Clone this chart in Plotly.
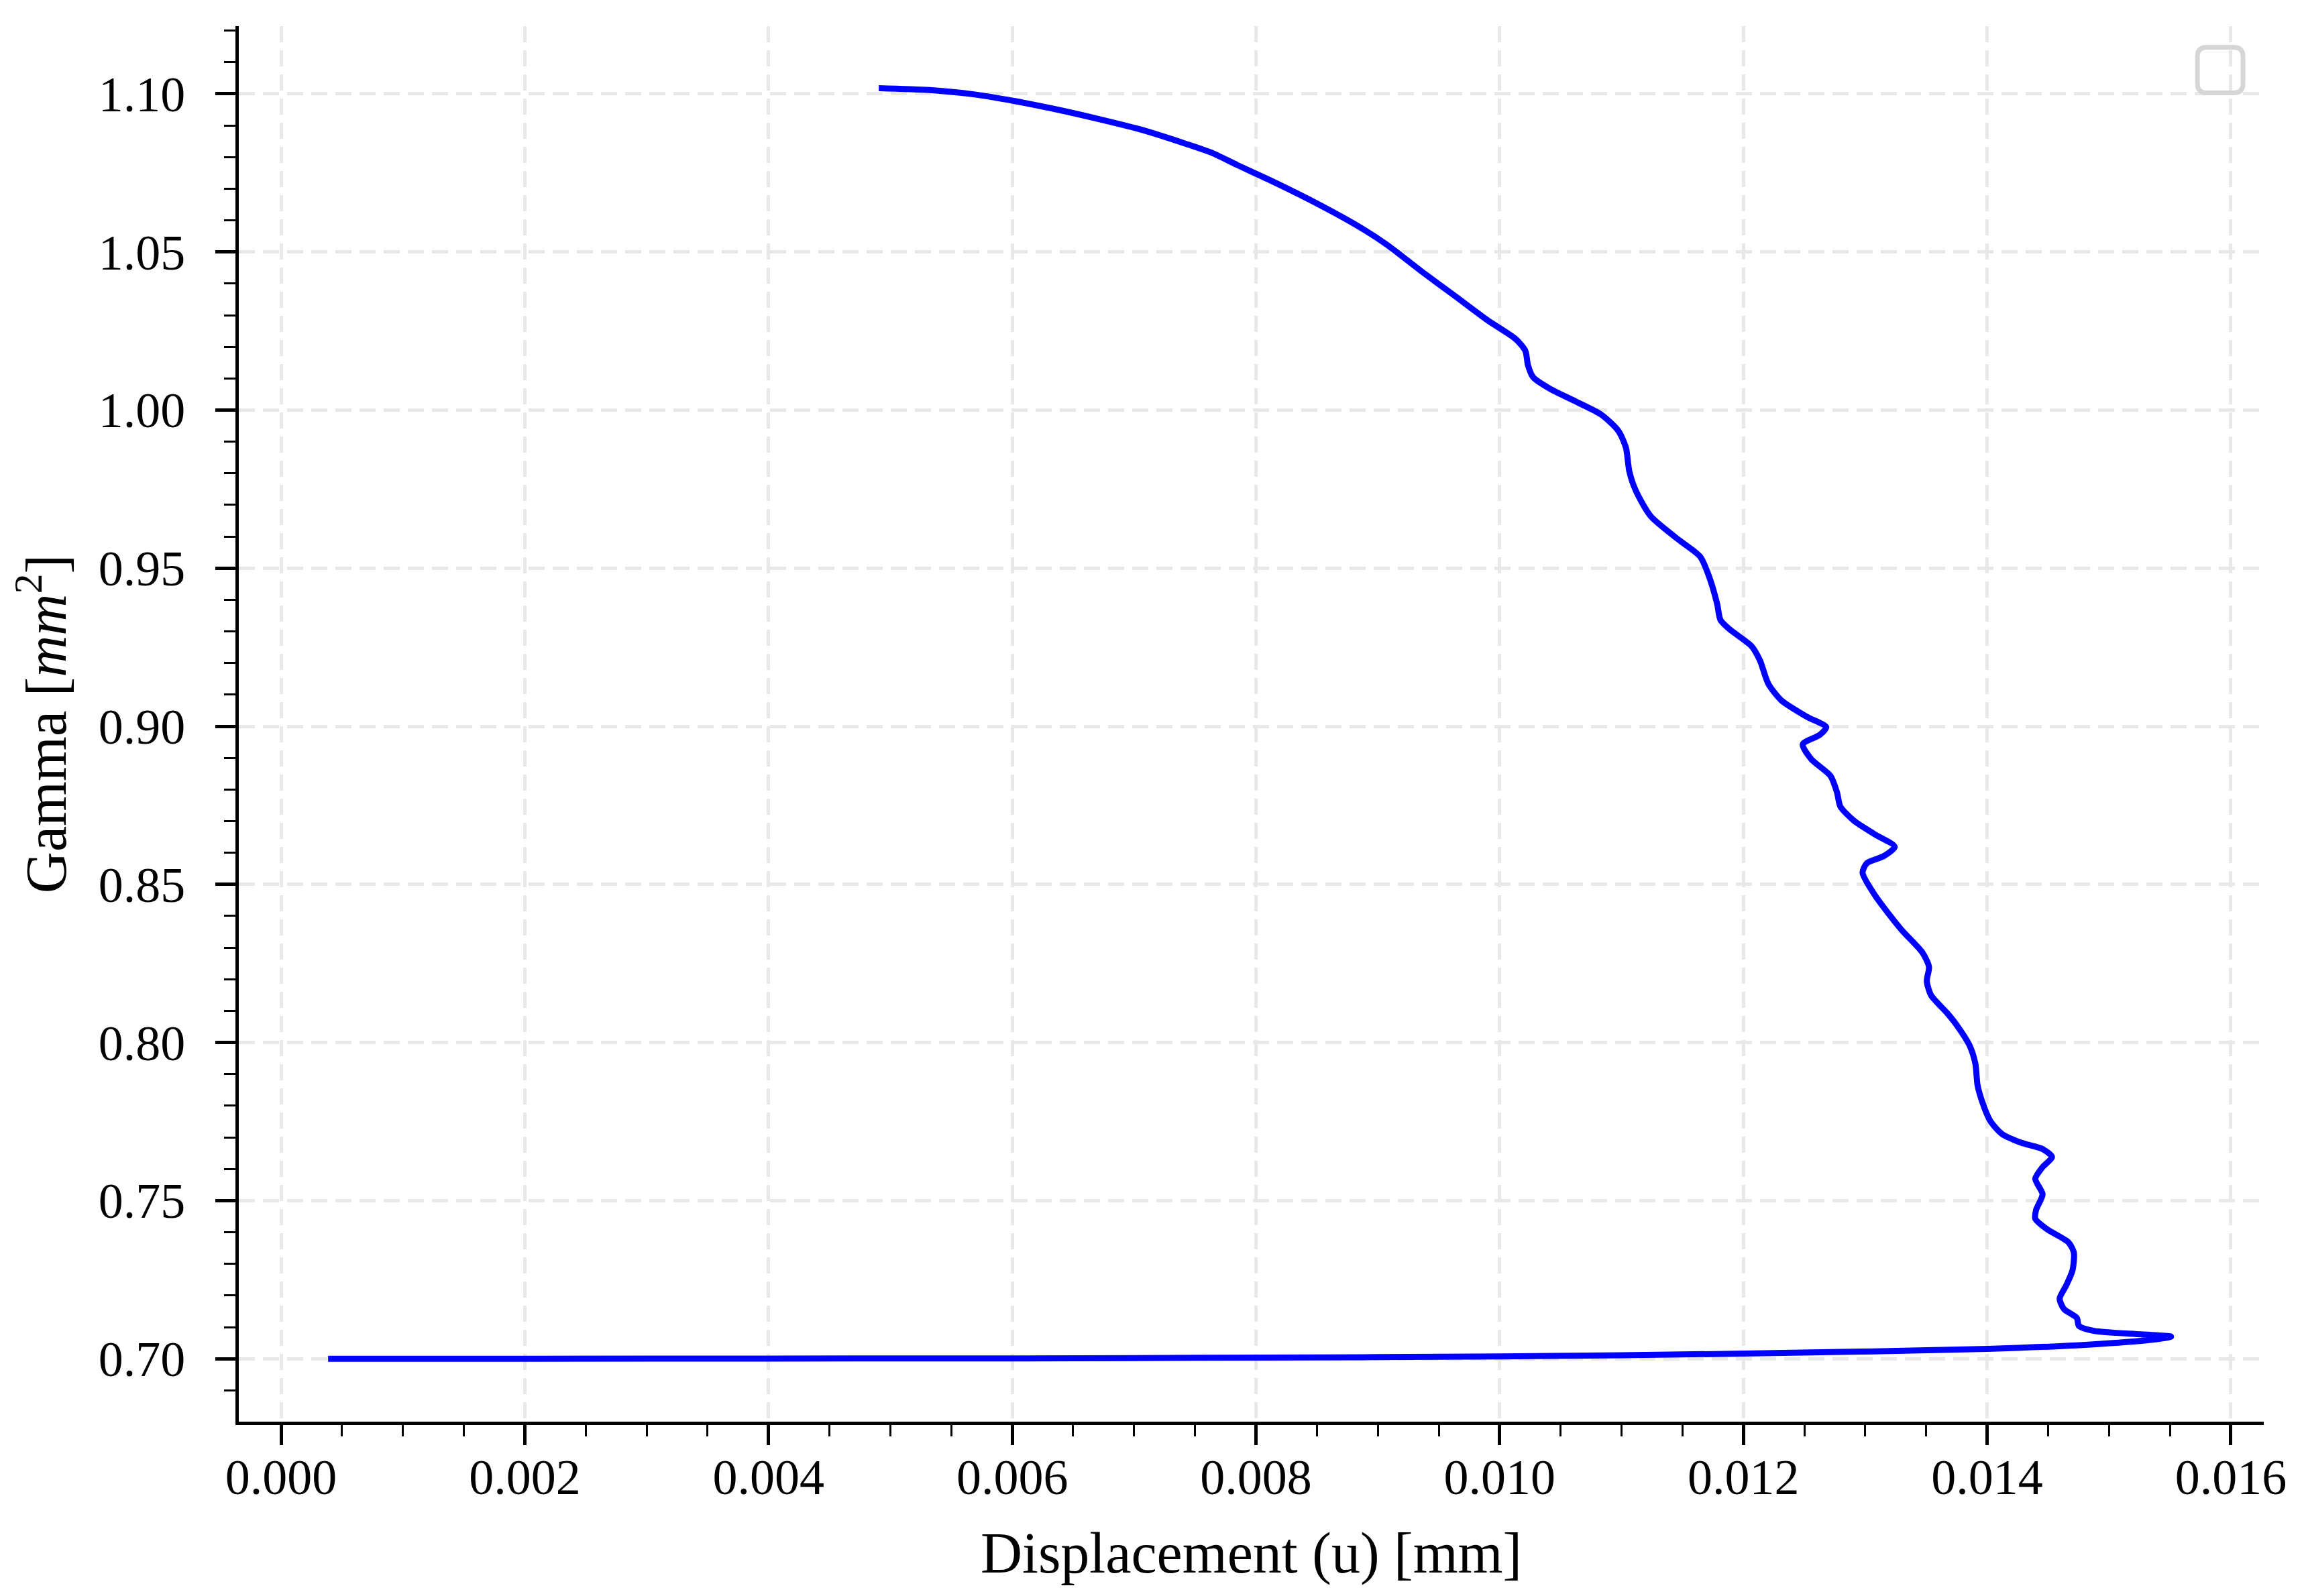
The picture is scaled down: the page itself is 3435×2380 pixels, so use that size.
import plotly.graph_objects as go

# Gamma vs displacement (in drawing order)
displacement = [
    0.004905, 0.005319, 0.005670, 0.006021, 0.006372, 0.006723, 0.007074, 0.007425,
    0.007635, 0.007846, 0.008126, 0.008477, 0.008828, 0.009074, 0.009354, 0.009635,
    0.009900, 0.010133, 0.010211, 0.010232, 0.010274, 0.010414, 0.010625, 0.010836,
    0.010976, 0.011036, 0.011064, 0.011116, 0.011240, 0.011468, 0.011644, 0.011714,
    0.011784, 0.011812, 0.011889, 0.012065, 0.012135, 0.012205, 0.012311, 0.012521,
    0.012680, 0.012627, 0.012487, 0.012557, 0.012715, 0.012768, 0.012796, 0.012908,
    0.013084, 0.013242, 0.013154, 0.013013, 0.012978, 0.013084, 0.013294, 0.013470,
    0.013523, 0.013505, 0.013540, 0.013670, 0.013752, 0.013858, 0.013904, 0.013921,
    0.013963, 0.014026, 0.014121, 0.014279, 0.014455, 0.014532, 0.014455, 0.014395,
    0.014455, 0.014402, 0.014395, 0.014490, 0.014665, 0.014711, 0.014701, 0.014648,
    0.014595, 0.014631, 0.014736, 0.014753, 0.014876, 0.015263, 0.015509, 0.015330,
    0.014850, 0.014000, 0.012000, 0.010000, 0.008000, 0.006000, 0.004000, 0.002000,
    0.000386,
]
gamma = [
    1.1018, 1.1012, 1.0999, 1.0977, 1.0950, 1.0919, 1.0885, 1.0842,
    1.0814, 1.0775, 1.0725, 1.0658, 1.0584, 1.0523, 1.0440, 1.0360,
    1.0284, 1.0224, 1.0187, 1.0142, 1.0104, 1.0067, 1.0027, 0.9985,
    0.9933, 0.9881, 0.9806, 0.9746, 0.9664, 0.9590, 0.9537, 0.9478,
    0.9388, 0.9336, 0.9306, 0.9254, 0.9209, 0.9134, 0.9082, 0.9030,
    0.8997, 0.8973, 0.8943, 0.8896, 0.8843, 0.8791, 0.8746, 0.8701,
    0.8657, 0.8619, 0.8590, 0.8567, 0.8537, 0.8463, 0.8358, 0.8284,
    0.8239, 0.8194, 0.8149, 0.8094, 0.8054, 0.7989, 0.7932, 0.7866,
    0.7809, 0.7752, 0.7711, 0.7683, 0.7663, 0.7638, 0.7606, 0.7569,
    0.7520, 0.7471, 0.7443, 0.7410, 0.7369, 0.7337, 0.7280, 0.7231,
    0.7190, 0.7157, 0.7129, 0.7104, 0.7088, 0.7077, 0.7070, 0.7059,
    0.7045, 0.7031, 0.7016, 0.7007, 0.70035, 0.7001, 0.70005, 0.7000,
    0.7000,
]

x_label = "Displacement (u) [mm]"
y_label = "Gamma [<i>mm</i><sup>2</sup>]"

font_family = "Liberation Serif"
line_color = "#000000"
grid_color = "#e8e8e8"

fig = go.Figure()
fig.add_trace(
    go.Scatter(
        x=displacement,
        y=gamma,
        mode="lines",
        line=dict(color="#0000ff", width=9, shape="spline", smoothing=0.7),
        showlegend=False,
    )
)

axis_common = dict(
    showline=True,
    linecolor=line_color,
    linewidth=5,
    ticks="outside",
    ticklen=30,
    tickwidth=5,
    tickcolor=line_color,
    showgrid=True,
    gridcolor=grid_color,
    gridwidth=5,
    griddash="24px,12px",
    zeroline=False,
    mirror=False,
    automargin=False,
    tickfont=dict(family=font_family, size=74, color=line_color),
)

fig.update_layout(
    width=3435,
    height=2380,
    margin=dict(l=348, r=68, t=31, b=268),
    paper_bgcolor="white",
    plot_bgcolor="white",
    font=dict(family=font_family, size=74, color=line_color),
    xaxis=dict(
        **axis_common,
        range=[-0.000347, 0.01627],
        tick0=0,
        dtick=0.002,
        tickformat=".3f",
        ticklabelstandoff=-16,
        minor=dict(ticks="outside", ticklen=17, tickwidth=3, tickcolor=line_color,
                   dtick=0.0005, tick0=0, showgrid=False),
        title=dict(text=x_label, font=dict(family=font_family, size=86), standoff=44),
    ),
    yaxis=dict(
        **axis_common,
        range=[0.6801, 1.1214],
        tick0=0.70,
        dtick=0.05,
        tickformat=".2f",
        ticklabelstandoff=30,
        minor=dict(ticks="outside", ticklen=17, tickwidth=3, tickcolor=line_color,
                   dtick=0.01, tick0=0.70, showgrid=False),
        title=dict(text=y_label, font=dict(family=font_family, size=86), standoff=30),
    ),
    shapes=[
        # empty legend frame in the top right corner
        dict(
            type="path",
            xref="paper",
            yref="paper",
            xsizemode="pixel",
            ysizemode="pixel",
            xanchor=0.9785,
            yanchor=0.9685,
            path="M -20 -34 L 20 -34 Q 34 -34 34 -20 L 34 20 Q 34 34 20 34 "
                 "L -20 34 Q -34 34 -34 20 L -34 -20 Q -34 -34 -20 -34 Z",
            line=dict(color="#d6d6d6", width=7),
            layer="above",
        )
    ],
)

fig.write_html("out.html")
